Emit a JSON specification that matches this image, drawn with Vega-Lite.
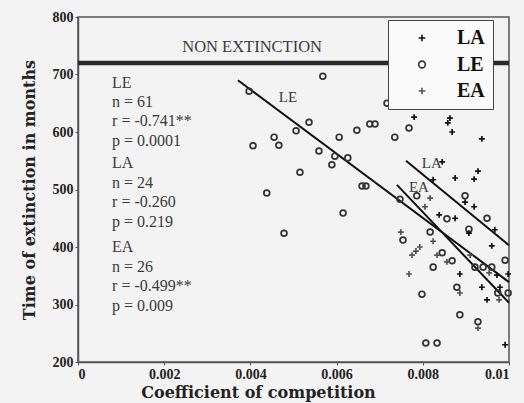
{
  "$schema": "https://vega.github.io/schema/vega-lite/v6.json",
  "autosize": {"type": "none"},
  "padding": {"left": 78, "top": 17, "right": 15, "bottom": 41},
  "width": 431,
  "height": 345,
  "background": "#f3f3f3",
  "config": {
    "view": {"stroke": "#555", "strokeWidth": 1.5},
    "axis": {
      "labelFont": "Liberation Serif", "labelFontSize": 14, "labelFontWeight": "bold", "labelColor": "#222",
      "titleFont": "DejaVu Serif", "titleFontSize": 16, "titleFontWeight": "bold", "titleColor": "#222",
      "domainColor": "#555", "domainWidth": 1.5, "tickColor": "#555", "tickSize": 3, "labelPadding": 2, "grid": false
    }
  },
  "datasets": {
    "pts": [
      {"group": "LE", "x": 0.00568, "y": 697},
      {"group": "LE", "x": 0.00397, "y": 671},
      {"group": "LE", "x": 0.00717, "y": 650},
      {"group": "LE", "x": 0.00536, "y": 617},
      {"group": "LE", "x": 0.00506, "y": 602},
      {"group": "LE", "x": 0.00647, "y": 603},
      {"group": "LE", "x": 0.00677, "y": 614},
      {"group": "LE", "x": 0.00689, "y": 614},
      {"group": "LE", "x": 0.00406, "y": 576},
      {"group": "LE", "x": 0.00455, "y": 591},
      {"group": "LE", "x": 0.00466, "y": 577},
      {"group": "LE", "x": 0.00606, "y": 591},
      {"group": "LE", "x": 0.00559, "y": 567},
      {"group": "LE", "x": 0.00596, "y": 558},
      {"group": "LE", "x": 0.00626, "y": 555},
      {"group": "LE", "x": 0.00589, "y": 543},
      {"group": "LE", "x": 0.00515, "y": 530},
      {"group": "LE", "x": 0.00659, "y": 506},
      {"group": "LE", "x": 0.00668, "y": 506},
      {"group": "LE", "x": 0.00438, "y": 494},
      {"group": "LE", "x": 0.00615, "y": 459},
      {"group": "LE", "x": 0.00478, "y": 424},
      {"group": "LE", "x": 0.00735, "y": 591},
      {"group": "LE", "x": 0.00768, "y": 607},
      {"group": "LE", "x": 0.00786, "y": 489},
      {"group": "LE", "x": 0.00747, "y": 483},
      {"group": "LE", "x": 0.00898, "y": 489},
      {"group": "LE", "x": 0.00949, "y": 450},
      {"group": "LE", "x": 0.00907, "y": 431},
      {"group": "LE", "x": 0.00856, "y": 449},
      {"group": "LE", "x": 0.00817, "y": 426},
      {"group": "LE", "x": 0.00754, "y": 412},
      {"group": "LE", "x": 0.00845, "y": 390},
      {"group": "LE", "x": 0.00991, "y": 377},
      {"group": "LE", "x": 0.00824, "y": 365},
      {"group": "LE", "x": 0.00868, "y": 376},
      {"group": "LE", "x": 0.00798, "y": 318},
      {"group": "LE", "x": 0.00879, "y": 330},
      {"group": "LE", "x": 0.00886, "y": 282},
      {"group": "LE", "x": 0.00928, "y": 270},
      {"group": "LE", "x": 0.00807, "y": 233},
      {"group": "LE", "x": 0.00833, "y": 233},
      {"group": "LE", "x": 0.00921, "y": 365},
      {"group": "LE", "x": 0.0094, "y": 365},
      {"group": "LE", "x": 0.0096, "y": 365},
      {"group": "LE", "x": 0.00974, "y": 320},
      {"group": "LE", "x": 0.00998, "y": 320},
      {"group": "LA", "x": 0.0078, "y": 626},
      {"group": "LA", "x": 0.00863, "y": 624},
      {"group": "LA", "x": 0.00858, "y": 616},
      {"group": "LA", "x": 0.00868, "y": 600},
      {"group": "LA", "x": 0.00937, "y": 588},
      {"group": "LA", "x": 0.00845, "y": 548},
      {"group": "LA", "x": 0.00875, "y": 520},
      {"group": "LA", "x": 0.00928, "y": 532},
      {"group": "LA", "x": 0.00919, "y": 518},
      {"group": "LA", "x": 0.00919, "y": 470},
      {"group": "LA", "x": 0.00875, "y": 450},
      {"group": "LA", "x": 0.00967, "y": 430},
      {"group": "LA", "x": 0.0096, "y": 402},
      {"group": "LA", "x": 0.00898, "y": 478},
      {"group": "LA", "x": 0.00998, "y": 353},
      {"group": "LA", "x": 0.00972, "y": 351},
      {"group": "LA", "x": 0.00979, "y": 330},
      {"group": "LA", "x": 0.00949, "y": 308},
      {"group": "LA", "x": 0.00991, "y": 230},
      {"group": "LA", "x": 0.00886, "y": 353},
      {"group": "LA", "x": 0.00937, "y": 330},
      {"group": "LA", "x": 0.00824, "y": 517},
      {"group": "LA", "x": 0.00838, "y": 456},
      {"group": "LA", "x": 0.00907, "y": 424},
      {"group": "EA", "x": 0.00817, "y": 485},
      {"group": "EA", "x": 0.00805, "y": 470},
      {"group": "EA", "x": 0.00749, "y": 426},
      {"group": "EA", "x": 0.00775, "y": 386},
      {"group": "EA", "x": 0.00784, "y": 393},
      {"group": "EA", "x": 0.00793, "y": 400},
      {"group": "EA", "x": 0.00824, "y": 410},
      {"group": "EA", "x": 0.00768, "y": 353},
      {"group": "EA", "x": 0.00886, "y": 320},
      {"group": "EA", "x": 0.00928, "y": 259},
      {"group": "EA", "x": 0.00833, "y": 386},
      {"group": "EA", "x": 0.00977, "y": 308},
      {"group": "EA", "x": 0.00954, "y": 355},
      {"group": "EA", "x": 0.00856, "y": 374},
      {"group": "EA", "x": 0.0091, "y": 386}
    ],
    "fits": [
      {"group": "LE", "x": 0.00371, "y": 690},
      {"group": "LE", "x": 0.01, "y": 339},
      {"group": "LA", "x": 0.00761, "y": 550},
      {"group": "LA", "x": 0.01, "y": 403},
      {"group": "EA", "x": 0.0074, "y": 508},
      {"group": "EA", "x": 0.01, "y": 303}
    ],
    "nonext": [
      {"x": 0, "y": 720},
      {"x": 0.01, "y": 720}
    ],
    "notes": [
      {"x": 0.00079, "y": 685, "label": "LE"},
      {"x": 0.00079, "y": 652, "label": "n = 61"},
      {"x": 0.00079, "y": 619, "label": "r = -0.741**"},
      {"x": 0.00079, "y": 584, "label": "p = 0.0001"},
      {"x": 0.00079, "y": 546, "label": "LA"},
      {"x": 0.00079, "y": 511, "label": "n = 24"},
      {"x": 0.00079, "y": 478, "label": "r = -0.260"},
      {"x": 0.00079, "y": 443, "label": "p = 0.219"},
      {"x": 0.00079, "y": 400, "label": "EA"},
      {"x": 0.00079, "y": 365, "label": "n = 26"},
      {"x": 0.00079, "y": 332, "label": "r = -0.499**"},
      {"x": 0.00079, "y": 297, "label": "p = 0.009"}
    ],
    "labels": [
      {"x": 0.00487, "y": 661, "label": "LE", "size": 15},
      {"x": 0.00821, "y": 546, "label": "LA", "size": 15},
      {"x": 0.00791, "y": 504, "label": "EA", "size": 15},
      {"x": 0.00404, "y": 748, "label": "NON EXTINCTION", "size": 16.5}
    ]
  },
  "encoding": {
    "x": {"field": "x", "type": "quantitative", "scale": {"domain": [0, 0.01], "nice": false, "zero": false},
      "axis": {"title": "Coefficient of competition", "values": [0, 0.002, 0.004, 0.006, 0.008, 0.01], "format": "~g", "titlePadding": 3, "titleX": 180}},
    "y": {"field": "y", "type": "quantitative", "scale": {"domain": [200, 800], "nice": false, "zero": false},
      "axis": {"title": "Time of extinction in months", "values": [200, 300, 400, 500, 600, 700, 800], "titlePadding": 15}}
  },
  "layer": [
    {
      "data": {"name": "nonext"},
      "mark": {"type": "line", "color": "#2a2a2a", "strokeWidth": 4.5},
      "encoding": {}
    },
    {
      "data": {"name": "fits"},
      "mark": {"type": "line", "color": "#111", "strokeWidth": 2},
      "encoding": {"detail": {"field": "group", "type": "nominal"}}
    },
    {
      "data": {"name": "pts"},
      "mark": {"type": "point", "filled": false, "strokeWidth": 1.7, "size": 34, "opacity": 1},
      "encoding": {
        "shape": {"field": "group", "type": "nominal",
          "scale": {"domain": ["LA", "LE", "EA"], "range": ["M-1,0H1M0,-1V1", "circle", "M-1,0H1M0,-1V1"]},
          "legend": {"title": null, "orient": "none", "legendX": 310, "legendY": 3, "padding": 8,
            "symbolOffset": 16, "labelOffset": 25, "rowPadding": 6.5,
            "labelFont": "Liberation Serif", "labelFontSize": 20, "labelFontWeight": "bold", "labelColor": "#111",
            "fillColor": "#fafafa", "strokeColor": "#444",
            "symbolSize": 45, "symbolStrokeWidth": 1.6}},
        "color": {"field": "group", "type": "nominal",
          "scale": {"domain": ["LA", "LE", "EA"], "range": ["#111", "#333", "#555"]},
          "legend": {"title": null, "orient": "none", "legendX": 310, "legendY": 3, "padding": 8,
            "symbolOffset": 16, "labelOffset": 25, "rowPadding": 6.5,
            "labelFont": "Liberation Serif", "labelFontSize": 20, "labelFontWeight": "bold", "labelColor": "#111",
            "fillColor": "#fafafa", "strokeColor": "#444",
            "symbolSize": 45, "symbolStrokeWidth": 1.6}}
      }
    },
    {
      "data": {"name": "notes"},
      "mark": {"type": "text", "align": "left", "baseline": "middle", "font": "Liberation Serif", "fontSize": 16, "color": "#3a3a3a"},
      "encoding": {"text": {"field": "label"}}
    },
    {
      "data": {"name": "labels"},
      "mark": {"type": "text", "align": "center", "baseline": "middle", "font": "Liberation Serif", "color": "#3a3a3a"},
      "encoding": {"text": {"field": "label"}, "size": {"field": "size", "type": "quantitative", "scale": null}}
    }
  ]
}
